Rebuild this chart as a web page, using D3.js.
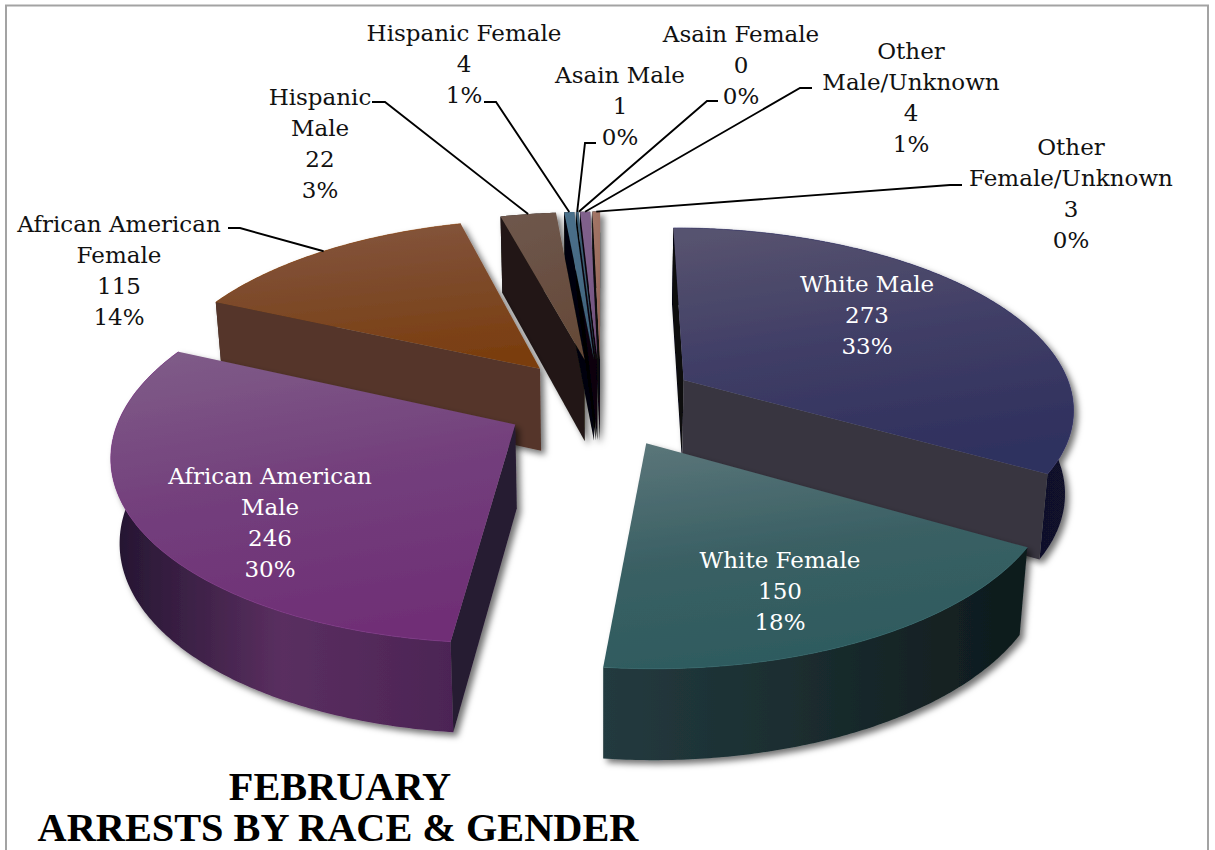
<!DOCTYPE html>
<html><head><meta charset="utf-8">
<script src="https://cdn.jsdelivr.net/npm/d3@7/dist/d3.min.js"></script>
<style>html,body{margin:0;background:#fff}svg{display:block}</style></head>
<body><svg id="c" width="1215" height="850"></svg>
<script>
// ---- data ----
const categories=["White Male","White Female","African American Male","African American Female","Hispanic Male","Hispanic Female","Asain Male","Asain Female","Other Male/Unknown","Other Female/Unknown"];
const values=[273,150,246,115,22,4,1,0,4,3];
const percents=["33%","18%","30%","14%","3%","1%","0%","0%","1%","0%"];
const titleLines=["FEBRUARY","ARRESTS BY RACE & GENDER"];
// ---- styles ----
const topStops=[["#57536f","#403e66","#2f305e"],["#5a7579","#3a6064","#2d5a5e"],["#7f5c88","#733f7c","#6f2f76"],["#85563f","#7d4a2a","#7a3e10"],["#6e574c","#6a5043","#654a38"],["#4a6f8a","#466a84","#3f6078"],["#3a5a70","#3a5a70","#3a5a70"],["#444","#444","#444"],["#80628c","#7c5c88","#704f7c"],["#a27566","#9c6e60","#8e6254"]];
const outerStops=[["#05050c","#12122c"],["#233a3f","#1a2c2e","#0e1a1c"],["#231530","#5a2f60","#4c2455"],["#3a2418","#54362a"],["#1f1714","#1f1714"],["#050505","#050505"],["#050505","#050505"],["#050505","#050505"],["#050505","#050505"],["#050505","#050505"]];
const cutFills=[["#07070f","#38363f"],["#14282c","#14282c"],["#271a32","#271a32"],["#54362c","#2a1a14"],["#201815","#100c0a"],["#050608","#050608"],["#050505","#050505"],["#050505","#050505"],["#07060a","#07060a"],["#08070a","#08070a"]];
// ---- label layout ----
const labelCx=[867,780,270,119,320,464,620,741,911,1071];
const labelY=[292,568,484,232,105,41,83,42,59,155];
const labelLines=[["White Male"],["White Female"],["African American","Male"],["African American","Female"],["Hispanic","Male"],["Hispanic Female"],["Asain Male"],["Asain Female"],["Other","Male/Unknown"],["Other","Female/Unknown"]];
const labelColor=["#fff","#fff","#fff","#111","#111","#111","#111","#111","#111","#111"];
const leaderStart=[null,null,null,[228,228],[372,102],[484,102],[596,143],[718,101],[812,88],[962,185]];
const leaderBend=[null,null,null,[240,228],[385,102],[496,102],[585,143],[707,101],[800,88],[950,185]];
// ---- projection settings ----
const persp=0.144, explode=0.248, depth=83, squeeze=0.982, cx0=601, cy0=402;
const xS=d3.scaleLinear().domain([-1,1]).range([cx0-391,cx0+391]);
const yS=d3.scaleLinear().domain([-1,1]).range([cy0+180,cy0-180]);
function project(X,Y,low){
  const s=1/(1+persp*Y);
  let x=xS(X*s), y=yS(Y*s);
  if(low){ x=cx0+(x-cx0)*squeeze; y+=depth*Math.sqrt(s); }
  return [x,y];
}
const svg=d3.select("#c");
const defs=svg.append("defs");
const shadow=defs.append("filter").attr("id","sh").attr("x","-10%").attr("y","-10%").attr("width","125%").attr("height","125%");
shadow.append("feDropShadow").attr("dx",4).attr("dy",4).attr("stdDeviation",3).attr("flood-color","#000").attr("flood-opacity",.55);
function grad(id,stops,x1,y1,x2,y2){
  const g=defs.append("linearGradient").attr("id",id).attr("x1",x1).attr("y1",y1).attr("x2",x2).attr("y2",y2);
  stops.forEach((c,i)=>g.append("stop").attr("offset",i/(stops.length-1)).attr("stop-color",c));
  return `url(#${id})`;
}
svg.append("rect").attr("x",6).attr("y",5.5).attr("width",1202).attr("height",870).attr("fill","#fff").attr("stroke","#a3a3a3").attr("stroke-width",2);

const arcs=d3.pie().sort(null).value(d=>d)(values);
const line=d3.line().curve(d3.curveLinearClosed);
const slices=arcs.map((a,i)=>{
  const mid=(a.startAngle+a.endAngle)/2;
  return {...a,i,mid,ox:explode*Math.sin(mid),oy:explode*Math.cos(mid)};
});
function area(p){let s=0;p.forEach((q,k)=>{const r=p[(k+1)%p.length];s+=q[0]*r[1]-r[0]*q[1];});return s;}
function geometry(s){
  const n=Math.max(2,Math.ceil((s.endAngle-s.startAngle)/0.01));
  const thetas=d3.range(n+1).map(k=>s.startAngle+(s.endAngle-s.startAngle)*k/n);
  const rim=low=>thetas.map(t=>project(s.ox+Math.sin(t),s.oy+Math.cos(t),low));
  return {n,rimT:rim(false),rimB:rim(true),apexT:project(s.ox,s.oy,false),apexB:project(s.ox,s.oy,true)};
}
function drawSides(g,s){
  if(s.value===0) return;
  const i=s.i,{n,rimT,rimB,apexT,apexB}=geometry(s);
  g.append("path").attr("d",line(rimT.concat(rimB.slice().reverse())))
    .attr("fill",grad("o"+i,outerStops[i],0,0,1,0));
  const f0=[rimT[0],apexT,apexB,rimB[0]], f1=[rimT[n],apexT,apexB,rimB[n]];
  if(area(f0)>0) g.append("path").attr("d",line(f0)).attr("fill",cutFills[i][0]);
  if(area(f1)<0) g.append("path").attr("d",line(f1)).attr("fill",cutFills[i][1]);
}
function drawTop(g,s){
  if(s.value===0) return;
  const i=s.i,{rimT,apexT}=geometry(s);
  g.append("path").attr("d",line([apexT].concat(rimT))).attr("fill",grad("t"+i,topStops[i],0.15,0,0.4,1));
  if(s.value>100) g.append("path").attr("d",d3.line()(rimT)).attr("fill","none")
    .attr("stroke",d3.color(topStops[i][2]).brighter(.5)).attr("stroke-width",1).attr("stroke-opacity",.6);
}
// small slices share one shadow; all their walls go first, then all their tops
const small=slices.filter(s=>s.value<30);
const smallGroup=svg.append("g").attr("filter","url(#sh)");
small.forEach(s=>drawSides(smallGroup,s));
small.forEach(s=>drawTop(smallGroup,s));
slices.filter(s=>s.value>=30).sort((a,b)=>b.oy-a.oy).forEach(s=>{
  const g=svg.append("g").attr("filter","url(#sh)");
  drawSides(g,s); drawTop(g,s);
});
// leaders
const lead=d3.line();
slices.forEach(s=>{
  if(!leaderStart[s.i]) return;
  const tip=project(s.ox+Math.sin(s.mid),s.oy+Math.cos(s.mid),false);
  svg.append("path").attr("d",lead([leaderStart[s.i],leaderBend[s.i],tip]))
    .attr("fill","none").attr("stroke","#000").attr("stroke-width",1.9);
});
// labels
const fs=23, lh=31;
categories.forEach((c,i)=>{
  const rows=labelLines[i].concat([String(values[i]),percents[i]]);
  const t=svg.append("text").attr("text-anchor","middle").attr("fill",labelColor[i])
    .style("font-family","'DejaVu Serif',serif").style("font-size",fs+"px");
  rows.forEach((r,k)=>t.append("tspan").attr("x",labelCx[i]).attr("y",labelY[i]+k*lh).text(r));
});
// title
const titleCx=[340,338], titleY=[800,841];
titleLines.forEach((r,k)=>svg.append("text").attr("x",titleCx[k]).attr("y",titleY[k]).attr("text-anchor","middle")
  .style("font-family","'Liberation Serif',serif").style("font-weight","bold").style("font-size","40.3px").attr("fill","#000").text(r));
</script></body></html>
